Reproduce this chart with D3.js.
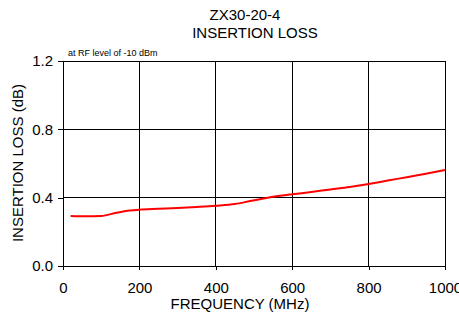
<!DOCTYPE html>
<html><head><meta charset="utf-8">
<script src="https://cdn.jsdelivr.net/npm/d3@7"></script>
<style>body{margin:0;background:#fff;}svg{display:block;font-family:"Liberation Sans",Arial,sans-serif;}</style>
</head><body>
<svg id="c" width="459" height="312"></svg>
<script>
const freqMHz = [20, 60, 100, 140, 175, 200, 250, 300, 350, 400, 450, 490, 550, 600, 650, 700, 750, 800, 850, 900, 950, 1000];
const lossDb  = [0.293, 0.291, 0.293, 0.312, 0.325, 0.33, 0.335, 0.34, 0.346, 0.353, 0.363, 0.38, 0.405, 0.42, 0.433, 0.448, 0.462, 0.48, 0.5, 0.52, 0.54, 0.562];
const xTicks = [0, 200, 400, 600, 800, 1000];
const yTicks = [0.0, 0.4, 0.8, 1.2];
const titleLines = ["ZX30-20-4", "INSERTION LOSS"];
const note = "at RF level of -10 dBm";
const xLabel = "FREQUENCY (MHz)";
const yLabel = "INSERTION LOSS (dB)";

const svg = d3.select("#c");
const L = 63, R = 445, T = 61, B = 266;
const x = d3.scaleLinear().domain([0, 1000]).range([L, R]);
const y = d3.scaleLinear().domain([0, 1.2]).range([B, T]);

// grid
svg.append("g").selectAll("line").data(xTicks.filter(d => d > 0)).join("line")
  .attr("x1", d => x(d)).attr("x2", d => x(d)).attr("y1", T).attr("y2", B)
  .attr("stroke", "#000").attr("stroke-width", 1).attr("shape-rendering", "crispEdges");
svg.append("g").selectAll("line").data(yTicks.filter(d => d > 0)).join("line")
  .attr("x1", L).attr("x2", R).attr("y1", d => y(d)).attr("y2", d => y(d))
  .attr("stroke", "#000").attr("stroke-width", 1).attr("shape-rendering", "crispEdges");

// axes
const xAxis = svg.append("g").attr("transform", `translate(0,${B})`)
  .call(d3.axisBottom(x).tickValues(xTicks).tickFormat(d3.format("d")).tickSize(4).tickPadding(12));
const yAxis = svg.append("g").attr("transform", `translate(${L},0)`)
  .call(d3.axisLeft(y).tickValues(yTicks).tickFormat(d3.format(".1f")).tickSize(5).tickPadding(5));
[xAxis, yAxis].forEach(a => {
  a.select(".domain").attr("stroke", "#000").attr("shape-rendering", "crispEdges");
  a.selectAll(".tick line").attr("stroke", "#000").attr("shape-rendering", "crispEdges");
  a.selectAll("text").attr("font-size", 15).attr("fill", "#000").attr("font-family", '"Liberation Sans",Arial,sans-serif');
});

// line
svg.append("path").datum(freqMHz.map((f, i) => [f, lossDb[i]]))
  .attr("fill", "none").attr("stroke", "#ff0000").attr("stroke-width", 2)
  .attr("d", d3.line().x(d => x(d[0])).y(d => y(d[1])).curve(d3.curveMonotoneX));

// texts
svg.append("text").attr("x", 245).attr("y", 20).attr("text-anchor", "middle").attr("font-size", 15).text(titleLines[0]);
svg.append("text").attr("x", 255).attr("y", 38).attr("text-anchor", "middle").attr("font-size", 15).text(titleLines[1]);
svg.append("text").attr("x", 68).attr("y", 56).attr("font-size", 9).text(note);
svg.append("text").attr("x", 240).attr("y", 309).attr("text-anchor", "middle").attr("font-size", 15).text(xLabel);
svg.append("text").attr("transform", "translate(23,163) rotate(-90)").attr("text-anchor", "middle").attr("font-size", 15).text(yLabel);
</script>
</body></html>
